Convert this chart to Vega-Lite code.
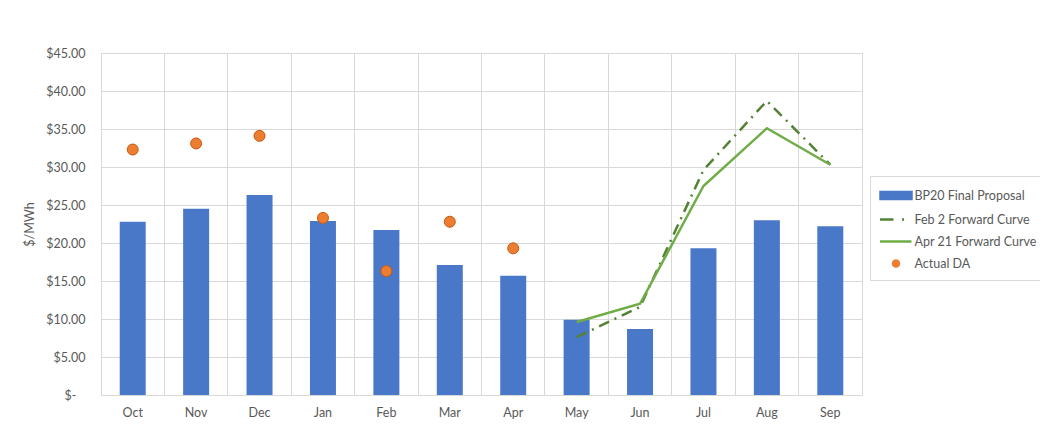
{
  "$schema": "https://vega.github.io/schema/vega-lite/v6.json",
  "width": 761,
  "height": 342,
  "autosize": {"type": "none"},
  "padding": {"left": 101, "top": 53, "right": 178, "bottom": 49},
  "background": "white",
  "config": {
    "font": "Lato",
    "view": {"stroke": "#D9D9D9", "strokeWidth": 1},
    "axis": {"labelFont": "Lato", "labelFontSize": 12.5, "labelColor": "#595959", "titleFont": "Lato", "titleColor": "#595959", "gridColor": "#D9D9D9", "gridWidth": 1},
    "legend": {"labelFont": "Lato", "labelFontSize": 12.5, "labelColor": "#595959"}
  },
  "data": {
    "values": [
      {"month": "Oct", "series": "BP20 Final Proposal", "value": 22.8},
      {"month": "Nov", "series": "BP20 Final Proposal", "value": 24.5},
      {"month": "Dec", "series": "BP20 Final Proposal", "value": 26.3},
      {"month": "Jan", "series": "BP20 Final Proposal", "value": 22.9},
      {"month": "Feb", "series": "BP20 Final Proposal", "value": 21.7},
      {"month": "Mar", "series": "BP20 Final Proposal", "value": 17.1},
      {"month": "Apr", "series": "BP20 Final Proposal", "value": 15.7},
      {"month": "May", "series": "BP20 Final Proposal", "value": 9.9},
      {"month": "Jun", "series": "BP20 Final Proposal", "value": 8.7},
      {"month": "Jul", "series": "BP20 Final Proposal", "value": 19.3},
      {"month": "Aug", "series": "BP20 Final Proposal", "value": 23.0},
      {"month": "Sep", "series": "BP20 Final Proposal", "value": 22.2},
      {"month": "May", "series": "Feb 2 Forward Curve", "value": 7.6},
      {"month": "Jun", "series": "Feb 2 Forward Curve", "value": 11.6},
      {"month": "Jul", "series": "Feb 2 Forward Curve", "value": 29.6},
      {"month": "Aug", "series": "Feb 2 Forward Curve", "value": 38.7},
      {"month": "Sep", "series": "Feb 2 Forward Curve", "value": 30.3},
      {"month": "May", "series": "Apr 21 Forward Curve", "value": 9.6},
      {"month": "Jun", "series": "Apr 21 Forward Curve", "value": 12.0},
      {"month": "Jul", "series": "Apr 21 Forward Curve", "value": 27.5},
      {"month": "Aug", "series": "Apr 21 Forward Curve", "value": 35.1},
      {"month": "Sep", "series": "Apr 21 Forward Curve", "value": 30.3},
      {"month": "Oct", "series": "Actual DA", "value": 32.3},
      {"month": "Nov", "series": "Actual DA", "value": 33.1},
      {"month": "Dec", "series": "Actual DA", "value": 34.1},
      {"month": "Jan", "series": "Actual DA", "value": 23.3},
      {"month": "Feb", "series": "Actual DA", "value": 16.3},
      {"month": "Mar", "series": "Actual DA", "value": 22.8},
      {"month": "Apr", "series": "Actual DA", "value": 19.3}
    ]
  },
  "encoding": {
    "x": {
      "field": "month", "type": "ordinal",
      "sort": ["Oct","Nov","Dec","Jan","Feb","Mar","Apr","May","Jun","Jul","Aug","Sep"],
      "scale": {"paddingInner": 0, "paddingOuter": 0},
      "axis": {"title": null, "labelAngle": 0, "grid": true, "bandPosition": 0, "ticks": false, "domain": false, "labelPadding": 11}
    },
    "y": {
      "field": "value", "type": "quantitative",
      "scale": {"domain": [0, 45], "nice": false},
      "axis": {"title": "$/MWh", "values": [0,5,10,15,20,25,30,35,40,45], "ticks": false, "domain": false,
        "labelPadding": {"condition": {"test": "datum.value == 0", "value": 25}, "value": 16},
        "titlePadding": 9, "titleFontSize": 12.5, "titleFontWeight": "normal",
        "labelExpr": "datum.value == 0 ? '$-' : '$' + format(datum.value, '.2f')"}
    },
    "color": {
      "field": "series", "type": "nominal",
      "scale": {"domain": ["BP20 Final Proposal", "Feb 2 Forward Curve", "Apr 21 Forward Curve", "Actual DA"], "range": ["#4A78C8", "#548235", "#70AD47", "#ED7D31"]},
      "legend": {
        "title": null, "orient": "none", "legendX": 769, "legendY": 123,
        "padding": 8, "rowPadding": 4, "symbolSize": 400, "symbolOffset": 6.5, "labelOffset": 7,
        "fillColor": "white", "strokeColor": "#D9D9D9", "symbolStrokeWidth": 2.5,
        "encode": {"symbols": {"update": {"fill": {"scale": "color", "field": "value"}, "stroke": {"scale": "color", "field": "value"}, "strokeWidth": {"value": 2.5}}}}
      }
    }
  },
  "layer": [
    {
      "transform": [{"filter": "datum.series == 'BP20 Final Proposal'"}],
      "mark": {"type": "bar", "width": {"band": 0.41}}
    },
    {
      "transform": [{"filter": "datum.series == 'Feb 2 Forward Curve'"}],
      "mark": {"type": "line", "strokeWidth": 2.5, "strokeDash": [11, 6, 2, 6]}
    },
    {
      "transform": [{"filter": "datum.series == 'Apr 21 Forward Curve'"}],
      "mark": {"type": "line", "strokeWidth": 2.5}
    },
    {
      "transform": [{"filter": "datum.series == 'Actual DA'"}],
      "mark": {"type": "point", "filled": true, "size": 1344, "stroke": "#C55A11", "strokeWidth": 1, "opacity": 1},
      "encoding": {
        "shape": {
          "field": "series", "type": "nominal",
          "scale": {"domain": ["BP20 Final Proposal", "Feb 2 Forward Curve", "Apr 21 Forward Curve", "Actual DA"],
            "range": ["M-1.55,-0.35H1.55V0.35H-1.55Z", "M-1.6,0H-0.25M0.6,0H0.8", "M-1.6,0H1.55", "M-0.3,0A0.3,0.3 0 1,0 0.3,0A0.3,0.3 0 1,0 -0.3,0Z"]},
          "legend": {
            "title": null, "orient": "none", "legendX": 769, "legendY": 123,
            "padding": 8, "rowPadding": 4, "symbolSize": 400, "symbolOffset": 6.5, "labelOffset": 7,
            "fillColor": "white", "strokeColor": "#D9D9D9", "symbolStrokeWidth": 2.5,
            "encode": {"symbols": {"update": {"fill": {"scale": "color", "field": "value"}, "stroke": {"scale": "color", "field": "value"}, "strokeWidth": {"value": 2.5}}}}
          }
        }
      }
    }
  ]
}
